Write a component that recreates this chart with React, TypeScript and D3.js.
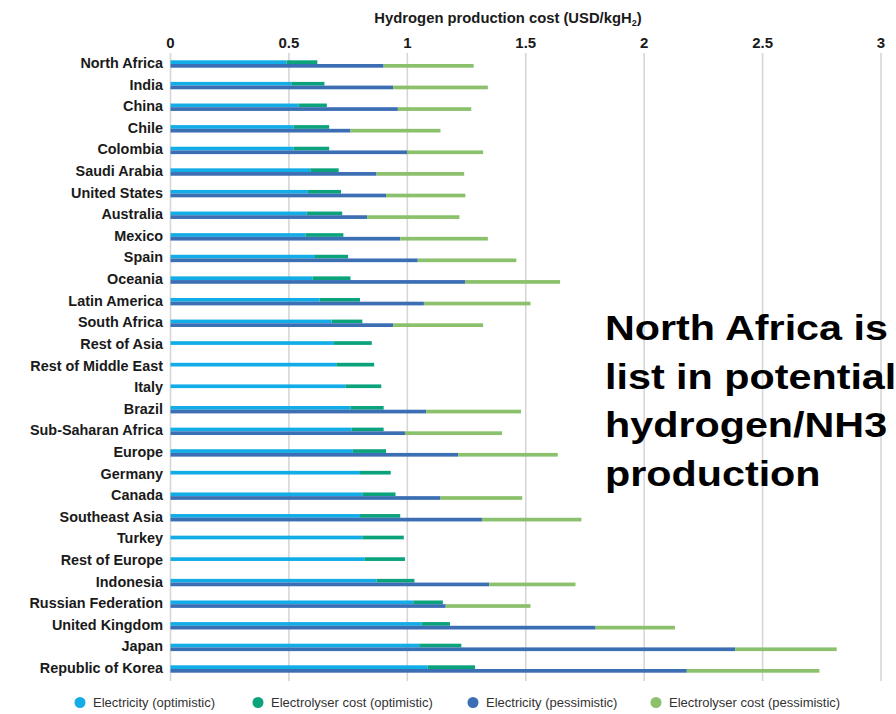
import React from "react";
import * as d3 from "d3";

const categories = [
  "North Africa", "India", "China", "Chile", "Colombia", "Saudi Arabia", "United States",
  "Australia", "Mexico", "Spain", "Oceania", "Latin America", "South Africa", "Rest of Asia",
  "Rest of Middle East", "Italy", "Brazil", "Sub-Saharan Africa", "Europe", "Germany", "Canada",
  "Southeast Asia", "Turkey", "Rest of Europe", "Indonesia", "Russian Federation",
  "United Kingdom", "Japan", "Republic of Korea",
];

const electricityOptimistic = [
  0.49, 0.51, 0.54, 0.52, 0.52, 0.59, 0.58, 0.575, 0.57, 0.61, 0.6, 0.63, 0.68, 0.69, 0.7,
  0.74, 0.76, 0.765, 0.77, 0.8, 0.81, 0.8, 0.81, 0.82, 0.87, 1.025, 1.06, 1.05, 1.086,
];
const electrolyserOptimistic = [
  0.13, 0.14, 0.12, 0.15, 0.15, 0.12, 0.14, 0.15, 0.16, 0.14, 0.16, 0.17, 0.13, 0.16, 0.16,
  0.15, 0.14, 0.135, 0.14, 0.13, 0.14, 0.17, 0.175, 0.17, 0.16, 0.125, 0.12, 0.178, 0.2,
];
const electricityPessimistic: (number | null)[] = [
  0.9, 0.94, 0.96, 0.76, 1.0, 0.87, 0.91, 0.83, 0.97, 1.044, 1.245, 1.07, 0.94, null, null,
  null, 1.08, 0.99, 1.215, null, 1.14, 1.315, null, null, 1.346, 1.162, 1.795, 2.384, 2.18,
];
const electrolyserPessimistic: (number | null)[] = [
  0.38, 0.4, 0.31, 0.38, 0.32, 0.37, 0.335, 0.39, 0.37, 0.416, 0.4, 0.45, 0.38, null, null,
  null, 0.4, 0.41, 0.42, null, 0.345, 0.42, null, null, 0.364, 0.358, 0.335, 0.429, 0.56,
];

const xTicks = [0, 0.5, 1, 1.5, 2, 2.5, 3];
const tickLabels = ["0", "0.5", "1", "1.5", "2", "2.5", "3"];
const seriesNames = [
  "Electricity (optimistic)",
  "Electrolyser cost (optimistic)",
  "Electricity (pessimistic)",
  "Electrolyser cost (pessimistic)",
];
const seriesColors = ["#12ade6", "#0ba37c", "#3c6eb4", "#8bc06c"];
const annotationLines = ["North Africa is", "list in potential", "hydrogen/NH3", "production"];

export default function App() {
  const W = 896;
  const H = 714;
  const x = d3.scaleLinear().domain([0, 3]).range([170.5, 881]);
  const y = d3.scalePoint<string>().domain(categories).range([64, 669]);
  const barH = 3.7;
  const legendX = [80, 258, 473, 656];

  return (
    <svg
      width={W}
      height={H}
      style={{ position: "absolute", left: 0, top: 0, background: "#fff" }}
      fontFamily="'Liberation Sans', Arial, sans-serif"
    >
      {xTicks.map((t, i) => (
        <g key={t}>
          <line x1={x(t)} x2={x(t)} y1={53} y2={681} stroke="#d6d6d6" strokeWidth={1.6} />
          <text x={x(t)} y={48} textAnchor="middle" fontSize={15} fontWeight="bold" fill="#1a1a1a">
            {tickLabels[i]}
          </text>
        </g>
      ))}
      <text x={508} y={23} textAnchor="middle" fontSize={14.8} fontWeight="bold" fill="#1a1a1a">
        Hydrogen production cost (USD/kgH<tspan fontSize={9} dy={3}>2</tspan>
        <tspan dy={-3}>)</tspan>
      </text>

      {categories.map((c, i) => {
        const yy = y(c) as number;
        const e1 = electricityOptimistic[i];
        const s1 = electrolyserOptimistic[i];
        const e2 = electricityPessimistic[i];
        const s2 = electrolyserPessimistic[i];
        return (
          <g key={c}>
            <text x={163} y={yy - 1} textAnchor="end" dominantBaseline="central" fontSize={14.4} fontWeight="bold" fill="#1a1a1a">
              {c}
            </text>
            <rect x={x(0)} y={yy - barH} width={x(e1) - x(0)} height={barH} fill={seriesColors[0]} />
            <rect x={x(e1)} y={yy - barH} width={x(e1 + s1) - x(e1)} height={barH} fill={seriesColors[1]} />
            {e2 != null && (
              <rect x={x(0)} y={yy} width={x(e2) - x(0)} height={barH} fill={seriesColors[2]} />
            )}
            {e2 != null && s2 != null && (
              <rect x={x(e2)} y={yy} width={x(e2 + s2) - x(e2)} height={barH} fill={seriesColors[3]} />
            )}
          </g>
        );
      })}

      {seriesNames.map((n, i) => (
        <g key={n}>
          <circle cx={legendX[i]} cy={702.5} r={5.5} fill={seriesColors[i]} />
          <text x={legendX[i] + 13} y={702.5} dominantBaseline="central" fontSize={13} fill="#333">
            {n}
          </text>
        </g>
      ))}

      {annotationLines.map((l, i) => (
        <text
          key={l}
          transform={`translate(605, ${340 + i * 48.5}) scale(1.18, 1)`}
          fontSize={35}
          fontWeight="bold"
          fill="#000"
        >
          {l}
        </text>
      ))}
    </svg>
  );
}
